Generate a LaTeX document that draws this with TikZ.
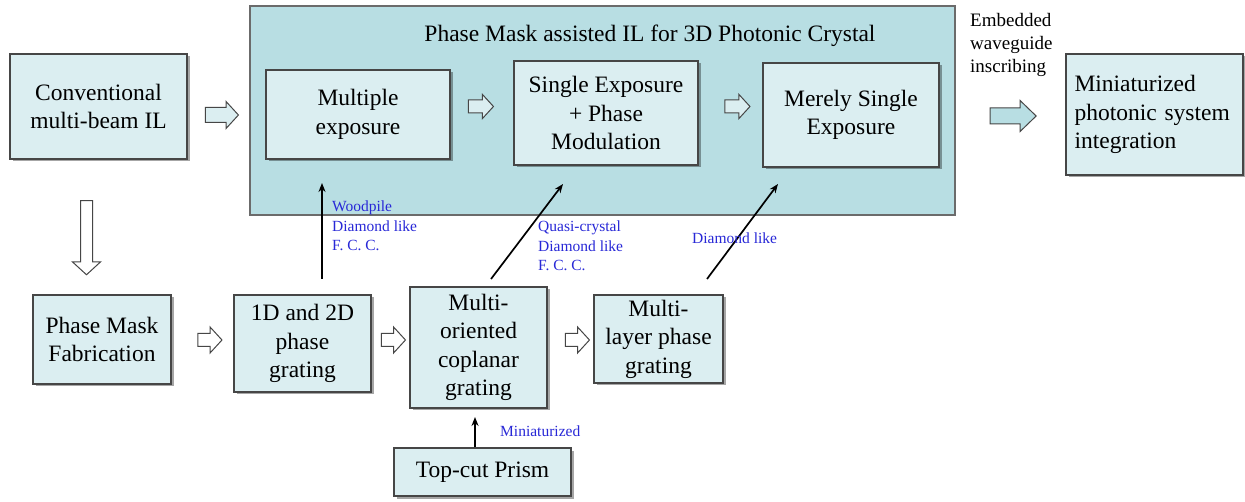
\documentclass[tikz,border=0pt]{standalone}
\usepackage{fontspec}
\setmainfont{Liberation Serif}
\usetikzlibrary{shapes.arrows,shadows,arrows.meta}
\definecolor{boxfill}{RGB}{219,238,241}
\definecolor{bigfill}{RGB}{184,222,227}
\definecolor{edge}{RGB}{70,70,70}
\definecolor{lblue}{RGB}{40,40,215}
\tikzset{
  stepbox/.style={draw=edge, line width=1.2pt, fill=boxfill, align=center,
    inner sep=0pt, font=\fontsize{23.5}{28.5}\selectfont,
    drop shadow={shadow xshift=2.5pt, shadow yshift=-2.5pt, opacity=0.35, fill=black}},
  bigbox/.style={draw=edge!80, line width=1.2pt, fill=bigfill, inner sep=0pt},
  blockarrow/.style={single arrow, draw=edge, line width=1pt, fill=white,
    minimum width=0pt, single arrow tip angle=95},
  thinarrow/.style={line width=1.7pt, -{Stealth[length=9pt,width=7pt]}},
  bluelbl/.style={text=lblue, align=left, inner sep=0pt, font=\fontsize{15.5}{19.5}\selectfont},
}
\begin{document}
\begin{tikzpicture}[x=1pt,y=-1pt]
\useasboundingbox (0,0) rectangle (1245,502);
\fill[white] (0,0) rectangle (1245,502);

% big container
\node[bigbox, minimum width=705pt, minimum height=209pt] (big) at (602.5,110.5) {};
\node[font=\fontsize{23.5}{27}\selectfont, inner sep=0pt] (title) at (650,36) {Phase Mask assisted IL for 3D Photonic Crystal};

% top row
\node[stepbox, minimum width=177pt, minimum height=105pt] (conv) at (98.5,106.5) {Conventional\\multi-beam IL};
\node[stepbox, minimum width=184pt, minimum height=89pt] (mult) at (358,114.5) {Multiple\\exposure};
\node[stepbox, minimum width=184pt, minimum height=104pt] (single) at (606,113) {Single Exposure\\+ Phase\\Modulation};
\node[stepbox, minimum width=176pt, minimum height=104pt] (merely) at (851,115) {Merely Single\\Exposure};
\node[stepbox, minimum width=177pt, minimum height=121pt, text width=160pt, align=left] (mini) at (1154.5,114.5) {Miniaturized\\photonic system\\integration};

\node[align=left, inner sep=0pt, anchor=west, font=\fontsize{19}{23}\selectfont] (emb) at (970,45) {Embedded\\waveguide\\inscribing};

% bottom row
\node[stepbox, minimum width=138pt, minimum height=89pt] (pmf) at (102,339.5) {Phase Mask\\Fabrication};
\node[stepbox, minimum width=137pt, minimum height=97pt] (grat) at (302.5,343.5) {1D and 2D\\phase\\grating};
\node[stepbox, minimum width=137pt, minimum height=121pt] (multior) at (478.5,347.5) {Multi-\\oriented\\coplanar\\grating};
\node[stepbox, minimum width=129pt, minimum height=88pt] (multil) at (658.5,339) {Multi-\\layer phase\\grating};
\node[stepbox, minimum width=177pt, minimum height=48pt] (prism) at (482.5,472) {Top-cut Prism};

% block arrows
\node[blockarrow, fill=boxfill, minimum height=33pt, inner sep=7pt, single arrow head extend=6pt] (ba1) at (218.5,115) {};
\node[blockarrow, fill=boxfill, minimum height=25pt, inner sep=6pt, single arrow head extend=5.5pt] (ba2) at (478,106.5) {};
\node[blockarrow, fill=boxfill, minimum height=25pt, inner sep=6pt, single arrow head extend=5.5pt] (ba3) at (734.5,106.5) {};
\node[blockarrow, fill=bigfill, minimum height=46pt, inner sep=7.5pt, single arrow head extend=7.5pt, single arrow tip angle=88] (ba4) at (1009,116) {};
\node[blockarrow, rotate=-90, minimum height=74pt, inner sep=5.5pt, single arrow head extend=8pt] (ba5) at (86.5,235) {};
\node[blockarrow, minimum height=24pt, inner sep=6pt, single arrow head extend=6.5pt] (ba6) at (207,340) {};
\node[blockarrow, minimum height=24pt, inner sep=6pt, single arrow head extend=6.5pt] (ba7) at (390.5,340) {};
\node[blockarrow, minimum height=24pt, inner sep=6pt, single arrow head extend=6.5pt] (ba8) at (574.5,340) {};

% thin arrows
\coordinate (a1s) at (322,279);
\coordinate (a1e) at (322,183);
\coordinate (a2s) at (491,279);
\coordinate (a2e) at (563,184);
\coordinate (a3s) at (707,279);
\coordinate (a3e) at (778,184);
\coordinate (a4e) at (475,417);
\draw[thinarrow] (a1s) -- (a1e);
\draw[thinarrow] (a2s) -- (a2e);
\draw[thinarrow] (a3s) -- (a3e);
\draw[thinarrow] (prism.north -| a4e) -- (a4e);

% labels
\node[bluelbl, anchor=west] (l1) at (332,226) {Woodpile\\Diamond like\\F. C. C.};
\node[bluelbl, anchor=west] (l2) at (538,246) {Quasi-crystal\\Diamond like\\F. C. C.};
\node[bluelbl, anchor=west] (l3) at (692,238) {Diamond like};
\node[bluelbl, anchor=west] (l4) at (500,431) {Miniaturized};
\end{tikzpicture}
\end{document}
